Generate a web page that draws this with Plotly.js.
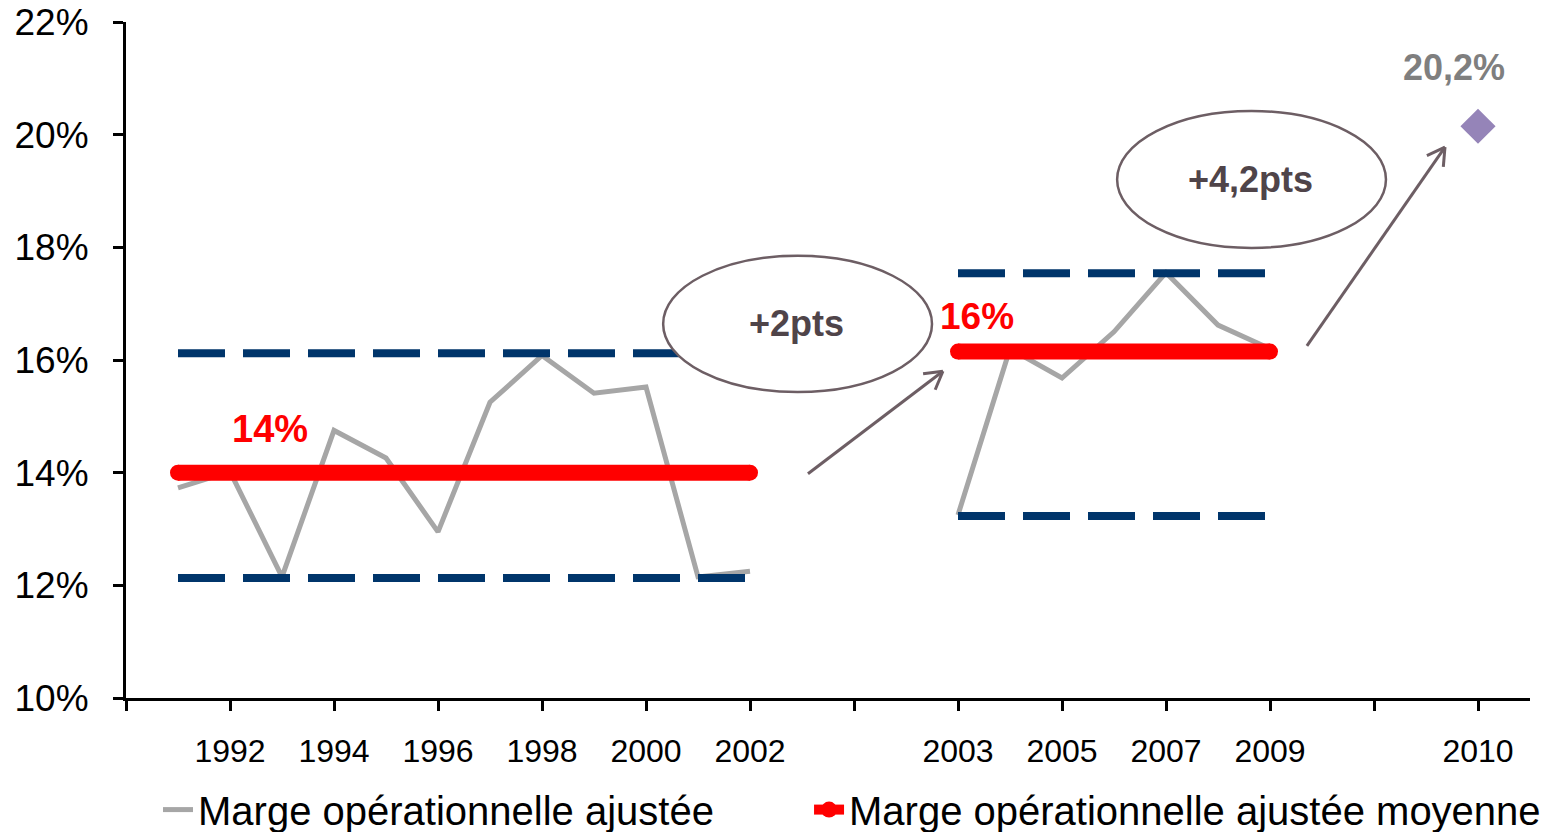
<!DOCTYPE html>
<html>
<head>
<meta charset="utf-8">
<script src="https://cdn.plot.ly/plotly-3.0.1.min.js"></script>
<style>
html,body{margin:0;padding:0;background:#ffffff;}
#chart{width:1549px;height:832px;}
</style>
</head>
<body>
<div id="chart"></div>
<script>
// ---- Data ----
// Category slots of the original axis (gaps kept as named blanks)
const slots = ["g0","1991","1992","1993","1994","1995","1996","1997","1998","1999","2000","2001","2002",
               "g13","g14","g15","2003","2004","2005","2006","2007","2008","2009","g23","g24","g25","2010","g27"];
const tickSlots = ["g0","1992","1994","1996","1998","2000","2002","g14","2003","2005","2007","2009","g24","2010"];
const tickText  = ["",  "1992","1994","1996","1998","2000","2002","",   "2003","2005","2007","2009","",   "2010"];

const years1  = ["1991","1992","1993","1994","1995","1996","1997","1998","1999","2000","2001","2002"];
const margin1 = [13.73, 14.02, 12.15, 14.75, 14.26, 12.95, 15.25, 16.08, 15.41, 15.52, 12.15, 12.25];
const years2  = ["2003","2004","2005","2006","2007","2008","2009"];
const margin2 = [13.25, 16.2, 15.68, 16.5, 17.55, 16.62, 16.2];

const mean1 = 14.0;   // "14%"
const mean2 = 16.15;  // "16%"
const high1 = 16.12, low1 = 12.13;
const high2 = 17.54, low2 = 13.23;

const year2010 = ["2010"];
const margin2010 = [20.15];

const seriesName = "Marge opérationnelle ajustée";
const meanName = "Marge opérationnelle ajustée moyenne";

// ---- Styles ----
const FONT = "Liberation Sans, Arial, sans-serif";
const GRAY = "#A6A6A6", RED = "#FF0000", NAVY = "#00356B", MAUVE = "#6D5E64", PURPLE = "#9584B8";

const first = a => a[0], last = a => a[a.length - 1];

const traces = [
  {x: years1, y: margin1, type: "scatter", mode: "lines", name: seriesName, legendgroup: "a", legend: "legend",
   line: {color: GRAY, width: 5}},
  {x: years2, y: margin2, type: "scatter", mode: "lines", name: seriesName, legendgroup: "a", showlegend: false,
   line: {color: GRAY, width: 5}},
  {x: [first(years1), last(years1)], y: [high1, high1], mode: "lines", showlegend: false,
   line: {color: NAVY, width: 8, dash: "47px,18px"}},
  {x: [first(years1), last(years1)], y: [low1, low1], mode: "lines", showlegend: false,
   line: {color: NAVY, width: 8, dash: "47px,18px"}},
  {x: [first(years2), last(years2)], y: [high2, high2], mode: "lines", showlegend: false,
   line: {color: NAVY, width: 8, dash: "47px,18px"}},
  {x: [first(years2), last(years2)], y: [low2, low2], mode: "lines", showlegend: false,
   line: {color: NAVY, width: 8, dash: "47px,18px"}},
  {x: [first(years1), last(years1)], y: [mean1, mean1], mode: "lines+markers", name: meanName, legendgroup: "b", legend: "legend2",
   line: {color: RED, width: 16}, marker: {color: RED, size: 16, symbol: "circle"}},
  {x: [first(years2), last(years2)], y: [mean2, mean2], mode: "lines+markers", name: meanName, legendgroup: "b", showlegend: false,
   legend: "legend2", line: {color: RED, width: 16}, marker: {color: RED, size: 16, symbol: "circle"}},
  {x: year2010, y: margin2010, mode: "markers", showlegend: false,
   marker: {color: PURPLE, size: 27, symbol: "diamond"}}
];

// ---- Layout helpers (decorations: ellipses & open arrows) ----
const M = {l: 126, r: 19, t: 22, b: 134, autoexpand: false};
const W = 1549, H = 832;
const xRange = [0, 27], yRange = [10, 22];
const pxX = (W - M.l - M.r) / (xRange[1] - xRange[0]);
const pxY = (H - M.t - M.b) / (yRange[1] - yRange[0]);

function arrow(x0, y0, x1, y1) {
  const line = {color: MAUVE, width: 3};
  const dxp = (x1 - x0) * pxX, dyp = (y1 - y0) * pxY;
  const ang = Math.atan2(dyp, dxp);
  const L = 20, spread = Math.PI / 6;
  const shapes = [{type: "line", xref: "x", yref: "y", x0, y0, x1, y1, line, layer: "above"}];
  [ang + Math.PI - spread, ang + Math.PI + spread].forEach(a => {
    shapes.push({type: "line", xref: "x", yref: "y", x0: x1, y0: y1,
      x1: x1 + Math.cos(a) * L / pxX, y1: y1 + Math.sin(a) * L / pxY, line, layer: "above"});
  });
  return shapes;
}

const shapes = [
  {type: "circle", xref: "x", yref: "y", x0: 10.33, x1: 15.5, y0: 15.43, y1: 17.85,
   line: {color: MAUVE, width: 2.5}, fillcolor: "#ffffff", layer: "above"},
  {type: "circle", xref: "x", yref: "y", x0: 19.06, x1: 24.23, y0: 17.99, y1: 20.42,
   line: {color: MAUVE, width: 2.5}, fillcolor: "#ffffff", layer: "above"},
  ...arrow(13.115, 13.98, 15.71, 15.80),
  ...arrow(22.71, 16.25, 25.365, 19.78)
];

const annotations = [
  {x: 2.77, y: 14.77, text: "14%", showarrow: false, font: {family: FONT, size: 38, color: RED, weight: "bold"}},
  {x: 16.37, y: 16.77, text: "16%", showarrow: false, font: {family: FONT, size: 37, color: RED, weight: "bold"}},
  {x: 12.9, y: 16.64, text: "+2pts", showarrow: false, font: {family: FONT, size: 36, color: "#4F4449", weight: "bold"}},
  {x: 21.62, y: 19.2, text: "+4,2pts", showarrow: false, font: {family: FONT, size: 36, color: "#4F4449", weight: "bold"}},
  {x: 25.54, y: 21.2, text: "20,2%", showarrow: false, font: {family: FONT, size: 36, color: "#7F7F7F", weight: "bold"}}
];

const legendCommon = {
  orientation: "h", xanchor: "left", y: -0.117, yanchor: "top",
  font: {family: FONT, size: 40, color: "#000"}, bgcolor: "rgba(0,0,0,0)"
};

const layout = {
  width: W, height: H,
  margin: M,
  paper_bgcolor: "#ffffff", plot_bgcolor: "#ffffff",
  font: {family: FONT, color: "#000000"},
  showlegend: true,
  xaxis: {
    type: "category", categoryorder: "array", categoryarray: slots,
    range: xRange, tickmode: "array", tickvals: tickSlots, ticktext: tickText,
    showgrid: false, zeroline: false, showline: true, linecolor: "#000", linewidth: 3,
    ticks: "outside", ticklen: 10, tickwidth: 3, tickcolor: "#000",
    tickfont: {family: FONT, size: 32, color: "#000"}, ticklabelstandoff: 13,
    fixedrange: true
  },
  yaxis: {
    range: yRange, tickmode: "linear", tick0: 10, dtick: 2, ticksuffix: "%",
    showgrid: false, zeroline: false, showline: true, linecolor: "#000", linewidth: 3,
    ticks: "outside", ticklen: 10, tickwidth: 3, tickcolor: "#000",
    tickfont: {family: FONT, size: 37, color: "#000"}, ticklabelstandoff: 17,
    fixedrange: true
  },
  legend: Object.assign({}, legendCommon, {x: 0.0228}),
  legend2: Object.assign({}, legendCommon, {x: 0.4865}),
  shapes, annotations
};

Plotly.newPlot("chart", traces, layout, {displayModeBar: false, staticPlot: true});
</script>
</body>
</html>
